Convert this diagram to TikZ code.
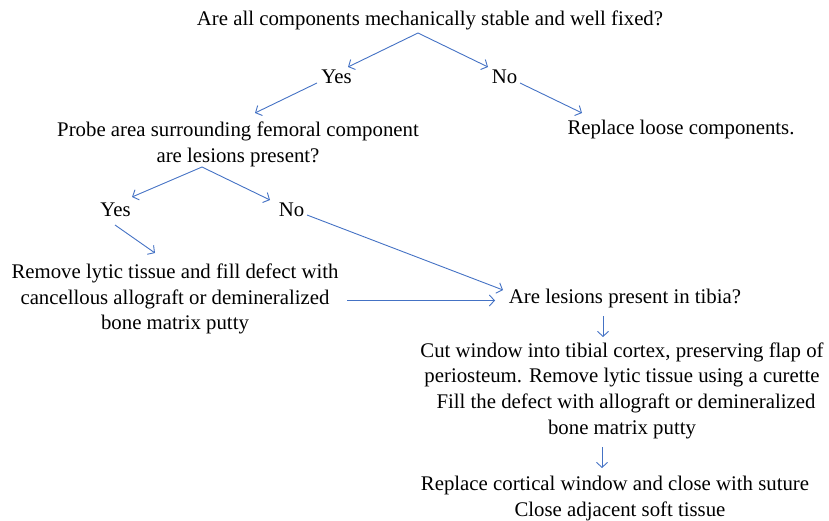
\documentclass[tikz,border=0pt]{standalone}
\usepackage{fontspec}
\setmainfont{Liberation Serif}
\usetikzlibrary{arrows.meta}
\definecolor{arrblue}{RGB}{68,114,196}
\tikzset{
  txt/.style={align=center, inner sep=0pt, font=\fontsize{20.8}{25.7}\selectfont},
  conn/.style={draw=arrblue, line width=0.9pt, -{Straight Barb[length=5pt,width=11pt,line width=0.9pt]}}
}
\begin{document}
\begin{tikzpicture}[x=1pt,y=-1pt]
\useasboundingbox (0,0) rectangle (829,521);
\node[txt] (q1) at (430,20) {Are all components mechanically stable and well fixed?};
\node[txt] (yes1) at (336.5,77) {Yes};
\node[txt] (no1) at (504.5,77) {No};
\node[txt] (probe) at (238,144.5) {Probe area surrounding femoral component\\are lesions present?};
\node[txt] (repl) at (681,130) {Replace loose components.};
\node[txt] (yes2) at (115.5,210) {Yes};
\node[txt] (no2) at (291.5,210) {No};
\node[txt] (remove) at (175,299) {Remove lytic tissue and fill defect with\\cancellous allograft or demineralized\\bone matrix putty};
\node[txt] (tibia) at (625,298) {Are lesions present in tibia?};
\node[txt] (cut) at (622,390.5) {Cut window into tibial cortex, preserving flap of\\periosteum. Remove lytic tissue using a curette\\\hspace*{8pt}Fill the defect with allograft or demineralized\\bone matrix putty};
\node[txt] (close) at (615,498.5) {Replace cortical window and close with suture\\\hspace*{10pt}Close adjacent soft tissue};
% connector end points
\coordinate (q1s) at (418,33);
\coordinate (yes1e) at (348,67);
\coordinate (no1e) at (488,67);
\coordinate (yes1s) at (317,83);
\coordinate (probee) at (255,113);
\coordinate (no1s) at (520,83);
\coordinate (reple) at (582,113);
\coordinate (probes) at (202,167);
\coordinate (yes2e) at (132,197);
\coordinate (no2e) at (270,200);
\coordinate (yes2s) at (115,225);
\coordinate (removee) at (155,253);
\coordinate (no2s) at (307,215);
\coordinate (tibiae1) at (503,290);
\coordinate (removes) at (347,300.5);
\coordinate (tibiae2) at (495,300.5);
\coordinate (tibias) at (603,316);
\coordinate (cute) at (603,337);
\coordinate (cuts) at (602,447);
\coordinate (closee) at (602,468);
\draw[conn] (q1s) -- (yes1e);
\draw[conn] (q1s) -- (no1e);
\draw[conn] (yes1s) -- (probee);
\draw[conn] (no1s) -- (reple);
\draw[conn] (probes) -- (yes2e);
\draw[conn] (probes) -- (no2e);
\draw[conn] (yes2s) -- (removee);
\draw[conn] (no2s) -- (tibiae1);
\draw[conn] (removes) -- (tibiae2);
\draw[conn] (tibias) -- (cute);
\draw[conn] (cuts) -- (closee);
\end{tikzpicture}
\end{document}
